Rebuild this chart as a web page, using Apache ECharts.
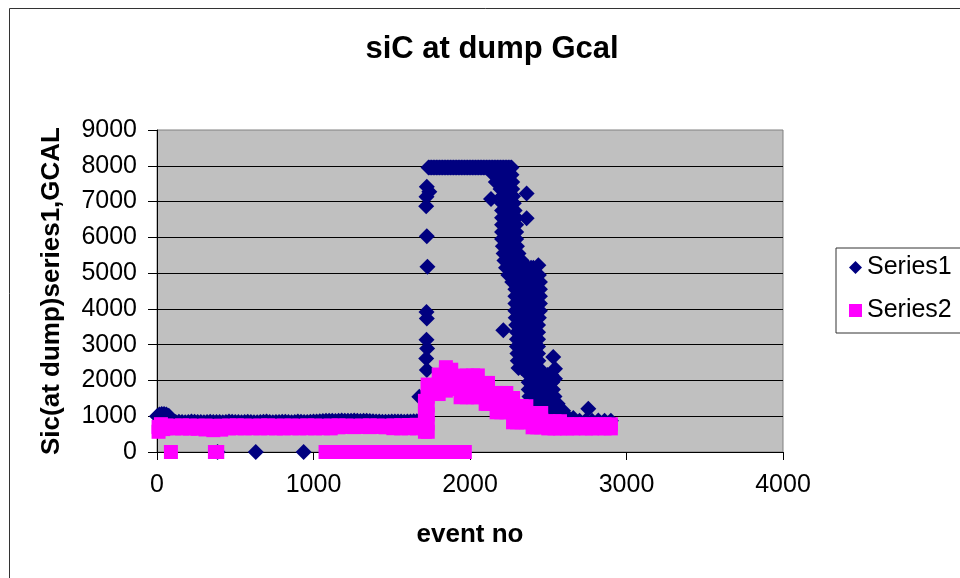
<!DOCTYPE html>
<html>
<head>
<meta charset="utf-8">
<title>siC at dump Gcal</title>
<script src="https://cdn.jsdelivr.net/npm/echarts@6/dist/echarts.min.js"></script>
<style>
  html, body { margin: 0; padding: 0; background: #ffffff; }
  .myChartBox { width: 960px; height: 578px; }
</style>
</head>
<body>
<div class="myChartBox" id="chartSiC"></div>
<script>
  // axis ticks
  const xTicks = [0, 1000, 2000, 3000, 4000];
  const yTicks = [0, 1000, 2000, 3000, 4000, 5000, 6000, 7000, 8000, 9000];

  // Series1  [event no, value]
  const s1Start = [[0,1000],[15,1045],[30,1060],[45,1060],[60,1045],[75,1010]];
  const s1Flat = [
    [100,835],[120,840],[140,845],[160,838],[180,830],[200,842],[220,850],[240,846],[260,840],[280,836],
    [300,835],[320,840],[340,845],[360,842],[380,840],[400,836],[420,835],[440,842],[460,850],[480,845],
    [500,840],[520,836],[540,835],[560,840],[580,845],[600,836],[620,830],[640,835],[660,840],[680,846],
    [700,850],[720,842],[740,835],[760,838],[780,840],[800,843],[820,845],[840,840],[860,835],[880,842],
    [900,850],[920,845],[940,840],[960,842],[980,845],[1000,850],[1020,855],[1040,860],[1060,865],[1080,870],
    [1100,875],[1120,870],[1140,865],[1160,872],[1180,880],[1200,875],[1220,870],[1240,875],[1260,880],[1280,872],
    [1300,865],[1320,870],[1340,875],[1360,868],[1380,860],[1400,855],[1420,850],[1440,848],[1460,845],[1480,848],
    [1500,850],[1520,852],[1540,855],[1560,850],[1580,845],[1600,850],[1620,855],[1640,858],[1660,860],[1680,862],
    [1700,865]
  ];
  const s1Zero = [[387,0],[631,0],[937,0]];
  const s1Rise = [
    [1676,1545],[1724,2290],[1720,2610],[1726,2890],[1722,3140],[1724,3730],[1722,3915],[1728,5175],
    [1724,6030],[1720,6870],[1722,7135],[1740,7275],[1724,7415]
  ];
  const s1Plateau = [
    [1735,7950],[1745,7950],[1755,7950],[1765,7950],[1775,7950],[1785,7950],[1795,7950],[1805,7950],
    [1815,7950],[1825,7950],[1835,7950],[1845,7950],[1855,7950],[1865,7950],[1875,7950],[1885,7950],
    [1895,7950],[1905,7950],[1915,7950],[1925,7950],[1935,7950],[1945,7950],[1955,7950],[1965,7950],
    [1975,7950],[1985,7950],[1995,7950],[2005,7950],[2015,7950],[2025,7950],[2035,7950],[2045,7950],
    [2055,7950],[2065,7950],[2075,7950],[2085,7950],[2095,7950],[2105,7950],[2115,7950],[2125,7950],
    [2135,7950],[2145,7950],[2155,7950],[2165,7950],[2175,7950],[2185,7950],[2195,7950],[2205,7950],
    [2215,7950],[2225,7950],[2235,7950],[2245,7950],[2255,7950],[2265,7950]
  ];
  // falling cluster: [value, event numbers at that value]
  const s1FallRows = [
    [7750, [2150,2170,2190,2210,2230,2250,2265]],
    [7550, [2165,2185,2205,2225,2245,2270]],
    [7350, [2195,2215,2235,2255,2270]],
    [7150, [2205,2225,2245,2265,2275]],
    [6950, [2205,2225,2245,2265,2280]],
    [6750, [2205,2225,2245,2265,2285]],
    [6550, [2205,2225,2245,2265,2285,2295]],
    [6350, [2205,2225,2245,2265,2285,2295]],
    [6150, [2205,2225,2245,2265,2285,2295]],
    [5950, [2205,2225,2245,2265,2285,2295]],
    [5750, [2210,2230,2250,2270,2290,2300]],
    [5550, [2215,2235,2255,2275,2295,2310]],
    [5350, [2220,2240,2260,2280,2300,2320,2330]],
    [5150, [2230,2250,2270,2290,2310,2330,2350,2370,2390,2405]],
    [4950, [2245,2265,2285,2305,2325,2345,2365,2385,2405,2425,2440]],
    [4750, [2270,2290,2310,2330,2350,2370,2390,2410,2430,2447]],
    [4550, [2290,2310,2330,2350,2370,2390,2410,2430,2447]],
    [4350, [2290,2310,2330,2350,2370,2390,2410,2430,2447]],
    [4150, [2290,2310,2330,2350,2370,2390,2410,2430,2447]],
    [3950, [2290,2310,2330,2350,2370,2390,2410,2430,2447]],
    [3750, [2292,2312,2332,2352,2372,2392,2412,2432,2440]],
    [3550, [2295,2315,2335,2355,2375,2395,2415,2435]],
    [3350, [2300,2320,2340,2360,2380,2400,2420,2435]],
    [3150, [2300,2320,2340,2360,2380,2400,2420,2435]],
    [2950, [2300,2320,2340,2360,2380,2400,2420,2435]],
    [2750, [2303,2323,2343,2363,2383,2403,2423,2435]],
    [2550, [2305,2325,2345,2365,2385,2405,2425,2437]],
    [2350, [2310,2330,2350,2370,2390,2410,2430,2440]],
    [2150, [2375,2395,2415,2435,2455,2475,2495,2520]],
    [1950, [2375,2395,2415,2435,2455,2475,2495,2525]],
    [1750, [2375,2395,2415,2435,2455,2475,2495,2515,2530]],
    [1550, [2380,2400,2420,2440,2460,2480,2500,2520,2540]],
    [1350, [2400,2420,2440,2460,2480,2500,2520,2540,2560]],
    [1150, [2440,2460,2480,2500,2520,2540,2560,2580,2595]],
    [950,  [2470,2490,2510,2530,2550,2570,2590,2610,2630,2660]]
  ];
  const s1Outliers = [[2134,7070],[2362,7228],[2362,6530],[2437,5220],[2213,3400],[2532,2655],[2543,2330],[2543,2050]];
  const s1Tail = [[2620,880],[2660,870],[2700,875],[2740,880],[2756,1210],[2780,870],[2820,880],[2860,875],[2900,870]];

  // Series2  [event no, value]
  const s2Start = [[10,565],[10,700],[25,778],[40,640]];
  const s2Flat = [
    [60,740],[110,735],[160,745],[210,740],[260,735],[310,740],[360,730],[410,735],[460,740],[510,745],
    [560,740],[610,735],[660,740],[710,745],[760,735],[810,740],[860,740],[910,735],[960,745],[1010,740],
    [1060,735],[1110,740],[1160,745],[1210,740],[1260,735],[1310,740],[1360,745],[1410,740],[1460,735],[1510,745],
    [1560,750],[1610,755],[1660,760],
    [60,665],[110,660],[160,660],[210,655],[260,650],[310,630],[360,610],[410,625],[460,660],[510,665],
    [560,660],[610,665],[660,660],[710,665],[760,660],[810,660],[860,665],[910,660],[960,665],[1010,660],
    [1060,665],[1110,660],[1160,690],[1210,700],[1260,695],[1310,700],[1360,695],[1410,700],[1460,690],[1510,665],
    [1560,660],[1610,665],[1660,660]
  ];
  const s2Zero = [
    [89,0],[370,0],[385,0],
    [1077,0],[1127,0],[1177,0],[1227,0],[1277,0],[1327,0],[1377,0],[1427,0],[1477,0],[1527,0],
    [1577,0],[1627,0],[1677,0],[1727,0],[1777,0],[1827,0],[1877,0],[1927,0],[1967,0]
  ];
  const s2Hump = [
    [1712,565],[1712,800],[1712,1050],[1712,1300],[1712,1430],
    [1730,565],[1730,800],[1730,1050],[1730,1300],[1730,1550],[1730,1800],[1730,1885],
    [1800,1620],[1800,1900],[1800,2165],
    [1846,1715],[1846,2000],[1846,2250],[1846,2370],
    [1880,1760],[1880,2050],[1880,2300],
    [1940,1530],[1940,1830],[1940,2135],
    [1980,1530],[1980,1830],[1980,2135],
    [2020,1530],[2020,1830],[2020,2140],
    [2050,1530],[2050,1830],[2050,2140],
    [2100,1345],[2100,1640],[2100,1930],
    [2115,1345],[2115,1640],[2115,1930],
    [2170,1110],[2170,1400],[2170,1650],
    [2200,1110],[2200,1400],[2200,1650],
    [2232,1110],[2232,1400],[2232,1650],
    [2275,830],[2275,1100],[2275,1350],[2275,1510],
    [2300,830],[2300,1050],[2300,1280],
    [2330,830],[2330,1050],[2330,1280],
    [2360,830],[2360,1050],[2360,1280],
    [2400,690],[2400,900],[2400,1090],
    [2430,690],[2430,900],[2430,1090],
    [2455,690],[2455,900],[2455,1090],
    [2500,660],[2500,860],[2540,660],[2540,860],[2575,660],[2575,860]
  ];
  const s2Tail = [
    [2620,660],[2620,775],[2660,660],[2660,775],[2700,665],[2700,775],[2740,660],[2740,775],
    [2780,660],[2780,775],[2820,665],[2820,775],[2860,660],[2860,775],[2900,660],[2900,775]
  ];

  let s1Fall = [];
  s1FallRows.forEach(function (row) {
    row[1].forEach(function (ev) { s1Fall.push([ev, row[0]]); });
  });

  const series1 = [].concat(s1Start, s1Flat, s1Zero, s1Rise, s1Plateau, s1Fall, s1Outliers, s1Tail);
  const series2 = [].concat(s2Start, s2Flat, s2Zero, s2Hump, s2Tail);

  const font = '"Liberation Sans", Arial, sans-serif';
  const plain = function (v) { return String(v); };

  let myChart = echarts.init(document.getElementById('chartSiC'), null, { renderer: 'canvas' });
  let option = {
    animation: false,
    backgroundColor: '#ffffff',
    title: {
      text: 'siC at dump Gcal',
      left: 492,
      top: 34,
      textAlign: 'center',
      padding: 0,
      textStyle: { fontFamily: font, fontSize: 31, fontWeight: 'bold', color: '#000000' }
    },
    graphic: [
      {
        type: 'rect',
        shape: { x: 9.5, y: 8.5, width: 1000, height: 1000 },
        style: { fill: 'none', stroke: '#333333', lineWidth: 1 },
        silent: true
      }
    ],
    legend: {
      orient: 'vertical',
      left: 836,
      top: 248,
      padding: [7, 10, 10, 13],
      itemGap: 18,
      itemWidth: 13,
      itemHeight: 13,
      borderColor: '#333333',
      borderWidth: 1,
      textStyle: { fontFamily: font, fontSize: 25, color: '#000000' },
      data: [
        { name: 'Series1', icon: 'diamond' },
        { name: 'Series2', icon: 'rect' }
      ]
    },
    grid: {
      left: 157,
      right: 177,
      top: 130,
      bottom: 126,
      show: true,
      backgroundColor: '#C0C0C0',
      borderColor: '#808080',
      borderWidth: 1
    },
    xAxis: {
      type: 'value',
      min: xTicks[0],
      max: xTicks[xTicks.length - 1],
      interval: 1000,
      name: 'event no',
      nameLocation: 'middle',
      nameGap: 70,
      nameTextStyle: { fontFamily: font, fontSize: 26, fontWeight: 'bold', color: '#000000' },
      axisLine: { onZero: false, lineStyle: { color: '#000000', width: 1 } },
      axisTick: { show: true, inside: false, length: 8, lineStyle: { color: '#000000' } },
      axisLabel: { fontFamily: font, fontSize: 25, color: '#000000', margin: 21, formatter: plain },
      splitLine: { show: false }
    },
    yAxis: {
      type: 'value',
      min: yTicks[0],
      max: yTicks[yTicks.length - 1],
      interval: 1000,
      name: 'Sic(at dump)series1,GCAL',
      nameLocation: 'middle',
      nameGap: 92,
      nameTextStyle: { fontFamily: font, fontSize: 26, fontWeight: 'bold', color: '#000000' },
      axisLine: { show: true, lineStyle: { color: '#000000', width: 1 } },
      axisTick: { show: true, inside: false, length: 9, lineStyle: { color: '#000000' } },
      axisLabel: { fontFamily: font, fontSize: 25, color: '#000000', margin: 20, formatter: plain },
      splitLine: { show: true, showMinLine: false, showMaxLine: false, lineStyle: { color: '#000000', width: 1 } }
    },
    series: [
      {
        name: 'Series1',
        type: 'scatter',
        symbol: 'diamond',
        symbolSize: 16,
        itemStyle: { color: '#000080', opacity: 1 },
        data: series1
      },
      {
        name: 'Series2',
        type: 'scatter',
        symbol: 'rect',
        symbolSize: 14,
        itemStyle: { color: '#FF00FF', opacity: 1 },
        data: series2
      }
    ]
  };
  myChart.setOption(option);
</script>
</body>
</html>
